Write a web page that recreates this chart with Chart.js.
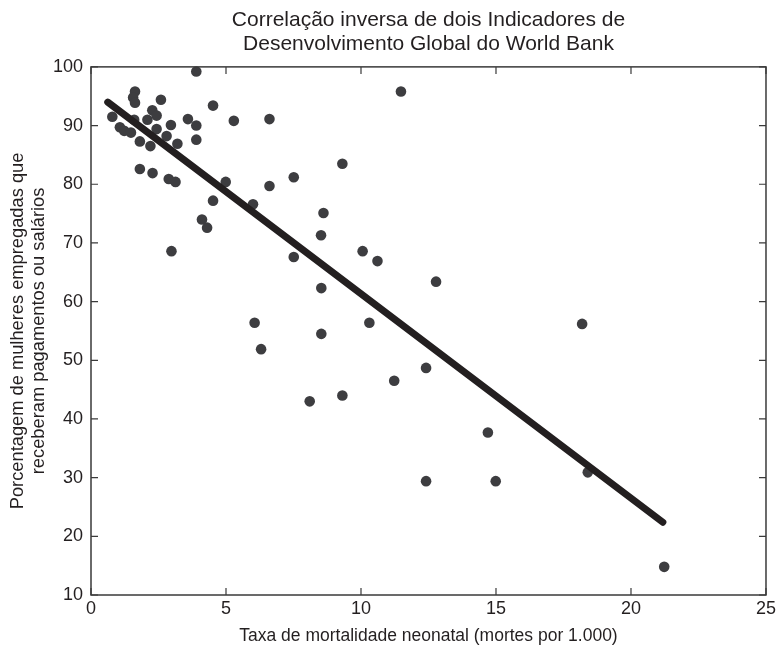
<!DOCTYPE html>
<html>
<head>
<meta charset="utf-8">
<script src="https://cdn.jsdelivr.net/npm/chart.js@4/dist/chart.umd.min.js"></script>
<style>
    html, body { margin: 0; padding: 0; background: #fff; }
    #wrap { width: 779px; height: 649px; }
</style>
</head>
<body>
<div id="wrap"><canvas id="chart" width="779" height="649"></canvas></div>
<script>
// taxa de mortalidade neonatal (x) e % de mulheres assalariadas (y)
const mortalidade = [
    0.79, 1.07, 1.23, 1.48, 1.63, 1.56, 1.63, 1.60, 1.81, 1.81,
    2.09, 2.20, 2.28, 2.27, 2.43, 2.43, 2.59, 2.80, 2.96, 2.88,
    3.13, 3.20, 3.59, 3.90, 3.90, 3.90, 4.52, 5.29, 6.61, 7.51,
    4.99, 6.61, 4.52, 6.00, 4.11, 4.30, 2.98, 7.51, 6.06, 6.30,
    8.10, 11.48, 9.31, 8.61, 8.52, 10.06, 10.61, 12.78, 8.53, 10.31,
    8.53, 12.41, 11.23, 9.31, 14.70, 12.41, 14.99, 18.19, 18.40, 21.23
];
const mulheresEmpregadas = [
    91.5, 89.7, 89.1, 88.8, 95.8, 94.8, 93.9, 91.0, 87.3, 82.6,
    91.0, 86.5, 81.9, 92.6, 91.7, 89.4, 94.4, 88.2, 90.1, 80.9,
    80.4, 86.9, 91.1, 90.0, 87.6, 99.2, 93.4, 90.8, 91.1, 81.2,
    80.4, 79.7, 77.2, 76.6, 74.0, 72.6, 68.6, 67.6, 56.4, 51.9,
    43.0, 95.8, 83.5, 75.1, 71.3, 68.6, 66.9, 63.4, 62.3, 56.4,
    54.5, 48.7, 46.5, 44.0, 37.7, 29.4, 29.4, 56.2, 30.9, 14.8
];
// reta de tendência (extremos)
const retaX = [0.62, 21.18];
const retaY = [94.0, 22.4];

const xTicks = [0, 5, 10, 15, 20, 25];
const yTicks = [10, 20, 30, 40, 50, 60, 70, 80, 90, 100];

const FONT = "'Liberation Sans', Arial, sans-serif";
const INK = '#231f20';
const AXIS = '#3a3a3a';

const pontos = mortalidade.map((x, i) => ({ x, y: mulheresEmpregadas[i] }));
const reta = retaX.map((x, i) => ({ x, y: retaY[i] }));

// moldura completa + marcas de escala para dentro (nos 4 lados)
const frameTicks = {
    id: 'frameTicks',
    afterDatasetsDraw(chart) {
        const { ctx, chartArea: a, scales: { x, y } } = chart;
        const len = 7;
        ctx.save();
        ctx.strokeStyle = AXIS;
        ctx.lineWidth = 1.5;
        ctx.strokeRect(a.left, a.top, a.right - a.left, a.bottom - a.top);
        ctx.lineWidth = 1.2;
        ctx.beginPath();
        xTicks.forEach(v => {
            const px = x.getPixelForValue(v);
            ctx.moveTo(px, a.bottom); ctx.lineTo(px, a.bottom - len);
            ctx.moveTo(px, a.top); ctx.lineTo(px, a.top + len);
        });
        yTicks.forEach(v => {
            const py = y.getPixelForValue(v);
            ctx.moveTo(a.left, py); ctx.lineTo(a.left + len, py);
            ctx.moveTo(a.right, py); ctx.lineTo(a.right - len, py);
        });
        ctx.stroke();
        ctx.restore();
    }
};

new Chart(document.getElementById('chart'), {
    type: 'scatter',
    data: {
        datasets: [
            {
                type: 'line',
                label: 'tendência',
                data: reta,
                borderColor: INK,
                borderWidth: 7,
                borderCapStyle: 'round',
                pointRadius: 0,
                fill: false,
                order: 0,
                clip: false
            },
            {
                label: 'países',
                data: pontos,
                backgroundColor: '#3d3d40',
                borderWidth: 0,
                pointRadius: 5.3,
                pointHoverRadius: 5.3,
                order: 1,
                clip: false
            }
        ]
    },
    options: {
        responsive: false,
        animation: false,
        layout: { padding: { left: 0, right: 11, top: 0, bottom: 0 } },
        plugins: {
            legend: { display: false },
            tooltip: { enabled: false },
            title: {
                display: true,
                fullSize: false,
                text: ['Correlação inversa de dois Indicadores de', 'Desenvolvimento Global do World Bank'],
                color: INK,
                font: { family: FONT, size: 21, weight: 'normal', lineHeight: 1.14 },
                padding: { top: 8, bottom: 11 }
            }
        },
        scales: {
            x: {
                type: 'linear',
                min: 0,
                max: 25,
                afterBuildTicks: s => { s.ticks = xTicks.map(v => ({ value: v })); },
                afterFit: s => { s.height = 54; },
                grid: { display: false, drawTicks: false },
                border: { display: false },
                ticks: { color: INK, padding: 3, font: { family: FONT, size: 18 } },
                title: {
                    display: true,
                    text: 'Taxa de mortalidade neonatal (mortes por 1.000)',
                    color: INK,
                    font: { family: FONT, size: 17.5, lineHeight: 1.2 },
                    padding: { top: 4, bottom: 2 }
                }
            },
            y: {
                type: 'linear',
                min: 10,
                max: 100,
                afterBuildTicks: s => { s.ticks = yTicks.map(v => ({ value: v })); },
                afterFit: s => { s.width = 91; },
                grid: { display: false, drawTicks: false },
                border: { display: false },
                ticks: { color: INK, padding: 8, font: { family: FONT, size: 18 } },
                title: {
                    display: true,
                    text: ['Porcentagem de mulheres empregadas que', 'receberam pagamentos ou salários'],
                    color: INK,
                    font: { family: FONT, size: 18.3, lineHeight: 1.17 },
                    padding: { top: 7, bottom: 0 }
                }
            }
        }
    },
    plugins: [frameTicks]
});
</script>
</body>
</html>
